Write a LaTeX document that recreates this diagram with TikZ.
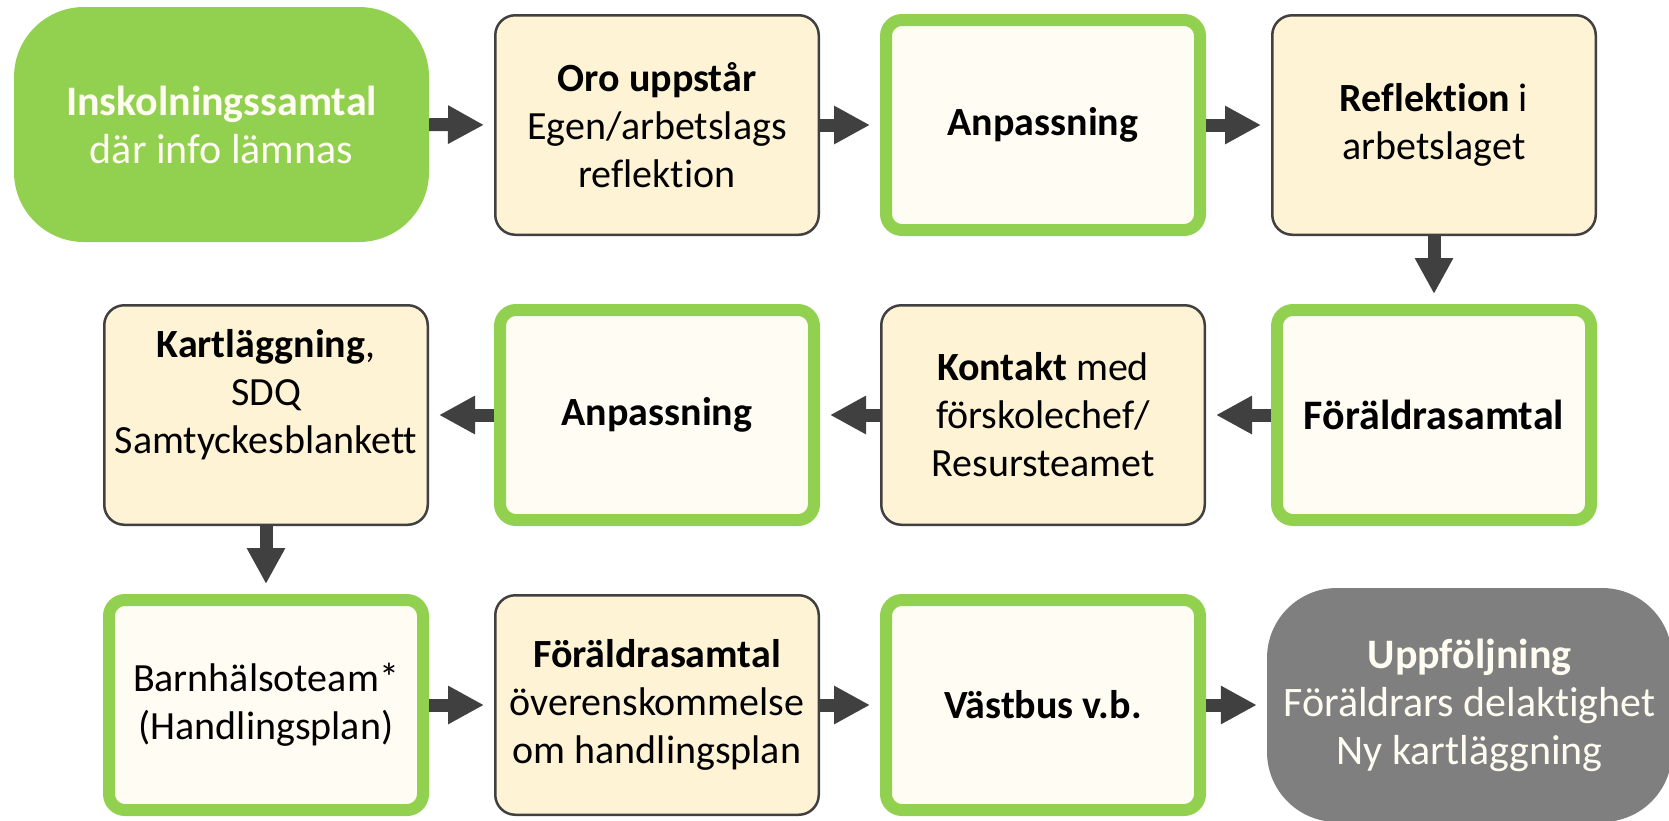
\documentclass[tikz,border=0pt]{standalone}
\usepackage{fontspec}
\setmainfont{Carlito}[Ligatures=NoCommon]
\usetikzlibrary{arrows.meta}

\definecolor{leafgreen}{HTML}{92D050}
\definecolor{creamfill}{HTML}{FFF3D5}
\definecolor{paperfill}{HTML}{FFFCF3}
\definecolor{arrowgrey}{HTML}{404040}
\definecolor{slategrey}{HTML}{7F7F7F}
\definecolor{softwhite}{HTML}{FFFDF2}

\tikzset{
  basebox/.style={align=center, inner sep=0pt, text=black,
    font=\fontsize{40}{48}\selectfont},
  creambox/.style={basebox, draw=arrowgrey, line width=2.5pt, fill=creamfill,
    rounded corners=20pt, minimum width=323.5pt, minimum height=219.5pt},
  greenbox/.style={basebox, draw=leafgreen, line width=12pt, fill=paperfill,
    rounded corners=16pt, minimum width=314pt, minimum height=210pt},
  bigbox/.style={basebox, text=softwhite, rounded corners=70pt,
    font=\fontsize{42}{48}\selectfont},
  flowarrow/.style={draw=arrowgrey, line width=13pt,
    -{Triangle[length=36pt,width=36pt]}, shorten >=10pt},
}

\begin{document}
\begin{tikzpicture}[x=1pt,y=-1pt]
  \useasboundingbox (0,0) rectangle (1669,820);
  \def\colA{266}
  \def\colB{657}
  \def\colC{1043}
  \def\colD{1434}
  \def\rowA{125}
  \def\rowB{415}
  \def\rowC{705}

  % top row
  \node[bigbox, fill=leafgreen, minimum width=415pt, minimum height=235pt]
    (inskol) at (221.5,124.5) {\textbf{Inskolningssamtal}\\där info lämnas};
  \node[creambox] (oro) at (\colB,\rowA) {\textbf{Oro uppstår}\\Egen/arbetslags\\reflektion};
  \node[greenbox] (anpA) at (\colC,\rowA) {\textbf{Anpassning}};
  \node[creambox] (refl) at (\colD,\rowA) {\textbf{Reflektion} i\\arbetslaget};

  % middle row, right to left
  \node[greenbox, font=\fontsize{42}{50}\selectfont] (samtalA) at (\colD,\rowB) {\textbf{Föräldrasamtal}};
  \node[creambox] (kontakt) at (\colC,\rowB) {\textbf{Kontakt} med\\förskolechef/\\Resursteamet};
  \node[greenbox] (anpB) at (\colB,\rowB) {\textbf{Anpassning}};
  \node[creambox] (kartl) at (\colA,\rowB) {\textbf{Kartläggning},\\SDQ\\Samtyckesblankett\\\mbox{}};

  % bottom row
  \node[greenbox] (barn) at (\colA,\rowC) {Barnhälsoteam*\\(Handlingsplan)};
  \node[creambox] (samtalB) at (\colB,\rowC) {\textbf{Föräldrasamtal}\\överenskommelse\\om handlingsplan};
  \node[greenbox] (vastbus) at (\colC,\rowC) {\textbf{Västbus v.b.}};
  \node[bigbox, fill=slategrey, minimum width=405pt, minimum height=234pt]
    (uppf) at (1469.5,705) {\textbf{Uppföljning}\\Föräldrars delaktighet\\Ny kartläggning};

  % arrows
  \draw[flowarrow] (inskol.east) -- (oro.west);
  \draw[flowarrow] (oro.east) -- (anpA.west);
  \draw[flowarrow] (anpA.east) -- (refl.west);
  \draw[flowarrow] (refl.south) -- (samtalA.north);
  \draw[flowarrow] (samtalA.west) -- (kontakt.east);
  \draw[flowarrow] (kontakt.west) -- (anpB.east);
  \draw[flowarrow] (anpB.west) -- (kartl.east);
  \draw[flowarrow] (kartl.south) -- (barn.north);
  \draw[flowarrow] (barn.east) -- (samtalB.west);
  \draw[flowarrow] (samtalB.east) -- (vastbus.west);
  \draw[flowarrow] (vastbus.east) -- (uppf.west);
\end{tikzpicture}
\end{document}
